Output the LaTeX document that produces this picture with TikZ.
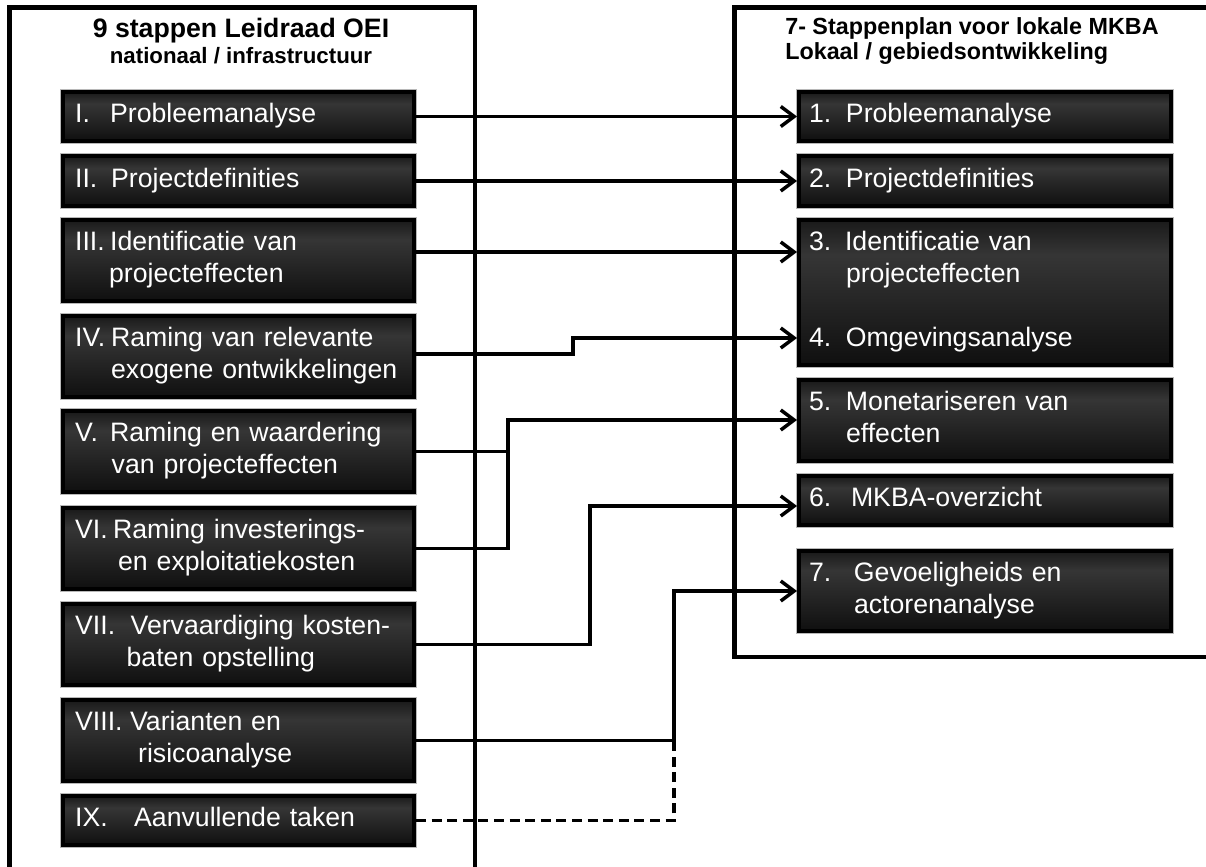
\documentclass[tikz,border=0pt]{standalone}
\usepackage{fontspec}
\setmainfont{Liberation Sans}
\usetikzlibrary{arrows.meta}

% one drawing unit: 1px of a 1206x867 canvas
\newdimen\pxu \pxu=0.75pt

% dark box fill: darker at the bottom, lighter band in the upper part
\pgfdeclareverticalshading{stepshade}{100bp}{color(0bp)=(black!94); color(25bp)=(black!94); color(63bp)=(black!79); color(75bp)=(black!90); color(100bp)=(black!90)}

\begin{document}
\begin{tikzpicture}[x=0.75pt, y=-0.75pt,
  stepbox/.style={preaction={draw=black!28, line width=4.5pt},
    draw=black, line width=3pt, shade, shading=stepshade,
    text=white, font=\fontsize{20pt}{24pt}\selectfont, align=left,
    inner ysep=0pt},
  leftbox/.style={stepbox, minimum width=263.25pt, inner xsep=9pt, text width=245pt},
  rightbox/.style={stepbox, minimum width=279pt, inner xsep=7.5pt, text width=264pt},
  frame/.style={draw=black, line width=3.4pt, line join=miter},
  link/.style={draw=black, line width=2.6pt, line join=miter},
  conn/.style={link, -{Straight Barb[length=10pt, width=15pt]}},
  dashlink/.style={link, dash pattern=on 7.5pt off 4.2pt},
  titlebig/.style={font=\fontsize{20pt}{24pt}\selectfont\bfseries, inner sep=0pt},
  titlesmall/.style={font=\fontsize{16.7pt}{20pt}\selectfont\bfseries, inner sep=0pt},
  titleright/.style={font=\fontsize{17.5pt}{21pt}\selectfont\bfseries, inner sep=0pt}
]
\useasboundingbox (0,0) rectangle (1206,867);
\fill[white] (0,0) rectangle (1206,867);
\clip (0,0) rectangle (1206,867);

% panel frames
\draw[frame] (9.5,900) -- (9.5,7.5) -- (475,7.5) -- (475,900);
\draw[frame] (1230,7.5) -- (734.5,7.5) -- (734.5,657) -- (1230,657);

% panel titles
\node[titlebig, anchor=base] (tl1) at (241,38) {9 stappen Leidraad OEI};
\node[titlesmall, anchor=base] (tl2) at (241,64) {nationaal / infrastructuur};
\node[titleright, anchor=base west] (tr1) at (785,34.5) {7- Stappenplan voor lokale MKBA};
\node[titleright, anchor=base west] (tr2) at (785,59.5) {Lokaal / gebiedsontwikkeling};

% left column: the nine steps
\node[leftbox, minimum height=36.75pt] (L1) at (238.5,116.5)
  {\makebox[35\pxu][l]{I.}Probleemanalyse\strut};
\node[leftbox, minimum height=37.5pt] (L2) at (238.5,181)
  {\makebox[36\pxu][l]{II.}Projectdefinities\strut};
\node[leftbox, minimum height=60.75pt] (L3) at (238.5,260.5)
  {\makebox[35\pxu][l]{III.}Identificatie van\strut\\\hspace*{34\pxu}projecteffecten\strut};
\node[leftbox, minimum height=60.75pt] (L4) at (238.5,356.5)
  {\makebox[36\pxu][l]{IV.}Raming van relevante\strut\\\hspace*{36\pxu}exogene ontwikkelingen\strut};
\node[leftbox, minimum height=60.75pt] (L5) at (238.5,451.5)
  {\makebox[35\pxu][l]{V.}Raming en waardering\strut\\\hspace*{36.5\pxu}van projecteffecten\strut};
\node[leftbox, minimum height=60.75pt] (L6) at (238.5,548.5)
  {\makebox[38\pxu][l]{VI.}Raming investerings-\strut\\\hspace*{43\pxu}en exploitatiekosten\strut};
\node[leftbox, minimum height=60.75pt] (L7) at (238.5,644.5)
  {\makebox[55.5\pxu][l]{VII.}Vervaardiging kosten-\strut\\\hspace*{51.5\pxu}baten opstelling\strut};
\node[leftbox, minimum height=60.75pt] (L8) at (238.5,740.5)
  {\makebox[55\pxu][l]{VIII.}Varianten en\strut\\\hspace*{63\pxu}risicoanalyse\strut};
\node[leftbox, minimum height=36.75pt] (L9) at (238.5,820.5)
  {\makebox[59\pxu][l]{IX.}Aanvullende taken\strut};

% right column: the seven steps
\node[rightbox, minimum height=36.75pt] (R1) at (985,116.5)
  {\makebox[37\pxu][l]{1.}Probleemanalyse\strut};
\node[rightbox, minimum height=37.5pt] (R2) at (985,181)
  {\makebox[37\pxu][l]{2.}Projectdefinities\strut};
\node[rightbox, minimum height=108.75pt] (R34) at (985,292.5)
  {\makebox[36\pxu][l]{3.}Identificatie van\strut\\\hspace*{37\pxu}projecteffecten\strut\\\strut\\\makebox[37\pxu][l]{4.}Omgevingsanalyse\strut};
\node[rightbox, minimum height=60.75pt] (R5) at (985,420.5)
  {\makebox[37\pxu][l]{5.}Monetariseren van\strut\\\hspace*{37\pxu}effecten\strut};
\node[rightbox, minimum height=36.75pt] (R6) at (985,500.5)
  {\makebox[42\pxu][l]{6.}MKBA-overzicht\strut};
\node[rightbox, minimum height=60pt] (R7) at (985,591)
  {\makebox[45\pxu][l]{7.}Gevoeligheids en\strut\\\hspace*{45\pxu}actorenanalyse\strut};

% connections between the two step lists
\draw[conn] (L1.east) -- (R1.west);
\draw[conn] (L2.east) -- (R2.west);
\draw[conn] (L3.east |- 0,252) -- (R34.west |- 0,252);
\draw[conn] (L4.east |- 0,354) -- ++(157,0) |- (R34.west |- 0,338);
\coordinate (j5) at (L5.east -| 508,0);
\draw[conn] (L5.east) -- (j5) |- (R5.west |- 0,420);
\draw[link] (L6.east) -| (j5);
\draw[conn] (L7.east) -- ++(174,0) |- (R6.west |- 0,506);
\coordinate (j8) at (L8.east -| 674,0);
\draw[conn] (L8.east) -- (j8) |- (R7.west);
\draw[dashlink] (L9.east) -| (j8);
\end{tikzpicture}
\end{document}
